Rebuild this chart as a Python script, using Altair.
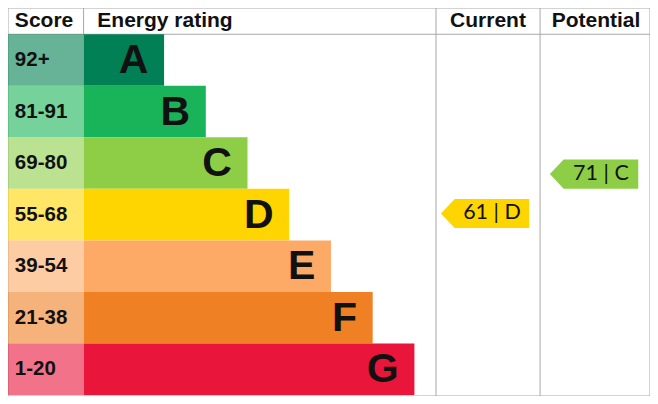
import altair as alt
import pandas as pd

# ---- data ----
ratings = ["A", "B", "C", "D", "E", "F", "G"]
score_bands = ["92+", "81-91", "69-80", "55-68", "39-54", "21-38", "1-20"]
band_colors = ["#008054", "#19b459", "#8dce46", "#ffd500", "#fcaa65", "#ef8023", "#e9153b"]
headers = ["Score", "Energy rating", "Current", "Potential"]
current_score, current_rating = 61, "D"
potential_score, potential_rating = 71, "C"

# ---- layout (in the reference pixel frame) ----
X0, X1, Y0, Y1 = 2, 656, 2, 401
HEAD_B = 29
SCORE_R = 79
CUR_L, POT_L = 438, 544
ROW_H = 53
BAR_BASE, BAR_STEP = 82, 42.5
W, H = 642, 388
SX = W / (X1 - X0)
SY = H / (Y1 - Y0)
FS = (SX + SY) / 2

rows = []
for i, (r, s, c) in enumerate(zip(ratings, score_bands, band_colors)):
    top = HEAD_B + i * ROW_H
    end = SCORE_R + BAR_BASE + i * BAR_STEP
    rows.append(dict(rating=r, score=s, color=c, x0=X0, xs=SCORE_R, xe=end,
                     xl=end - 16, xt=9, top=top, bot=top + ROW_H, cy=top + ROW_H / 2))
rows = pd.DataFrame(rows)

color_of = dict(zip(ratings, band_colors))
arrows = pd.DataFrame([
    dict(label=f"{current_score} | {current_rating}", color=color_of[current_rating],
         xc=488, xt=495, y=213.3),
    dict(label=f"{potential_score} | {potential_rating}", color=color_of[potential_rating],
         xc=599, xt=606, y=172.8),
])

head_df = pd.DataFrame([
    dict(t=headers[0], x=9, y=15.5, align="left"),
    dict(t=headers[1], x=93, y=15.5, align="left"),
    dict(t=headers[2], x=491, y=15.5, align="center"),
    dict(t=headers[3], x=601, y=15.5, align="center"),
])

lines = pd.DataFrame([
    dict(x=X0, x2=X1, y=Y0, y2=Y0),
    dict(x=X0, x2=X1, y=Y1, y2=Y1),
    dict(x=X0, x2=X1, y=HEAD_B, y2=HEAD_B),
    dict(x=X0, x2=X0, y=Y0, y2=Y1),
    dict(x=X1, x2=X1, y=Y0, y2=Y1),
    dict(x=SCORE_R, x2=SCORE_R, y=Y0, y2=HEAD_B),
    dict(x=CUR_L, x2=CUR_L, y=Y0, y2=Y1),
    dict(x=POT_L, x2=POT_L, y=Y0, y2=Y1),
])

xs = alt.Scale(domain=[X0, X1], nice=False, zero=False)
ys = alt.Scale(domain=[Y0, Y1], nice=False, zero=False, reverse=True)

rule = alt.Chart(lines).mark_rule(color="#a8a8a8", strokeWidth=1).encode(
    x=alt.X("x:Q", scale=xs, axis=None), x2="x2:Q",
    y=alt.Y("y:Q", scale=ys, axis=None), y2="y2:Q")

base = alt.Chart(rows)
score_cells = base.mark_rect(opacity=0.6).encode(
    x=alt.X("x0:Q", scale=xs, axis=None), x2="xs:Q",
    y=alt.Y("top:Q", scale=ys, axis=None), y2="bot:Q",
    fill=alt.Fill("color:N", scale=None))
bars = base.mark_rect().encode(
    x=alt.X("xs:Q", scale=xs, axis=None), x2="xe:Q",
    y=alt.Y("top:Q", scale=ys, axis=None), y2="bot:Q",
    fill=alt.Fill("color:N", scale=None))
score_txt = base.mark_text(align="left", baseline="middle", font="Arial",
                           fontWeight="bold", fontSize=21 * FS, color="#111111").encode(
    x=alt.X("xt:Q", scale=xs, axis=None), y=alt.Y("cy:Q", scale=ys, axis=None), text="score:N")
letter_txt = base.mark_text(align="right", baseline="middle", font="Arial",
                            fontWeight="bold", fontSize=42 * FS, dy=1, color="#111111").encode(
    x=alt.X("xl:Q", scale=xs, axis=None), y=alt.Y("cy:Q", scale=ys, axis=None), text="rating:N")

head_left = alt.Chart(head_df[head_df["align"] == "left"]).mark_text(
    align="left", baseline="middle", font="Arial", fontWeight="bold",
    fontSize=21.5 * FS, color="#111111").encode(
    x=alt.X("x:Q", scale=xs, axis=None), y=alt.Y("y:Q", scale=ys, axis=None), text="t:N")
head_center = alt.Chart(head_df[head_df["align"] == "center"]).mark_text(
    align="center", baseline="middle", font="Arial", fontWeight="bold",
    fontSize=21.5 * FS, color="#111111").encode(
    x=alt.X("x:Q", scale=xs, axis=None), y=alt.Y("y:Q", scale=ys, axis=None), text="t:N")

aw, ah = 90 * SX, 30 * SY
notch = 14 * SX
hy = ah / aw
nx = -1 + 2 * notch / aw
arrow_path = f"M-1,0 L{nx:.4f},{-hy:.4f} L1,{-hy:.4f} L1,{hy:.4f} L{nx:.4f},{hy:.4f} Z"
arrow_shapes = alt.Chart(arrows).mark_point(
    shape=arrow_path, filled=True, opacity=1, strokeWidth=0, size=aw * aw).encode(
    x=alt.X("xc:Q", scale=xs, axis=None), y=alt.Y("y:Q", scale=ys, axis=None),
    fill=alt.Fill("color:N", scale=None), color=alt.Color("color:N", scale=None))
arrow_txt = alt.Chart(arrows).mark_text(align="center", baseline="middle", font="Lato",
                                        fontSize=22 * FS, color="#111111").encode(
    x=alt.X("xt:Q", scale=xs, axis=None), y=alt.Y("y:Q", scale=ys, axis=None), text="label:N")

chart = alt.layer(rule, score_cells, bars, score_txt, letter_txt, head_left, head_center,
                  arrow_shapes, arrow_txt).properties(
    width=W, height=H, autosize=alt.AutoSizeParams(type="none"), padding=0
).configure_view(stroke=None)

chart.save("out.html", embed_options={"renderer": "svg", "actions": False})
